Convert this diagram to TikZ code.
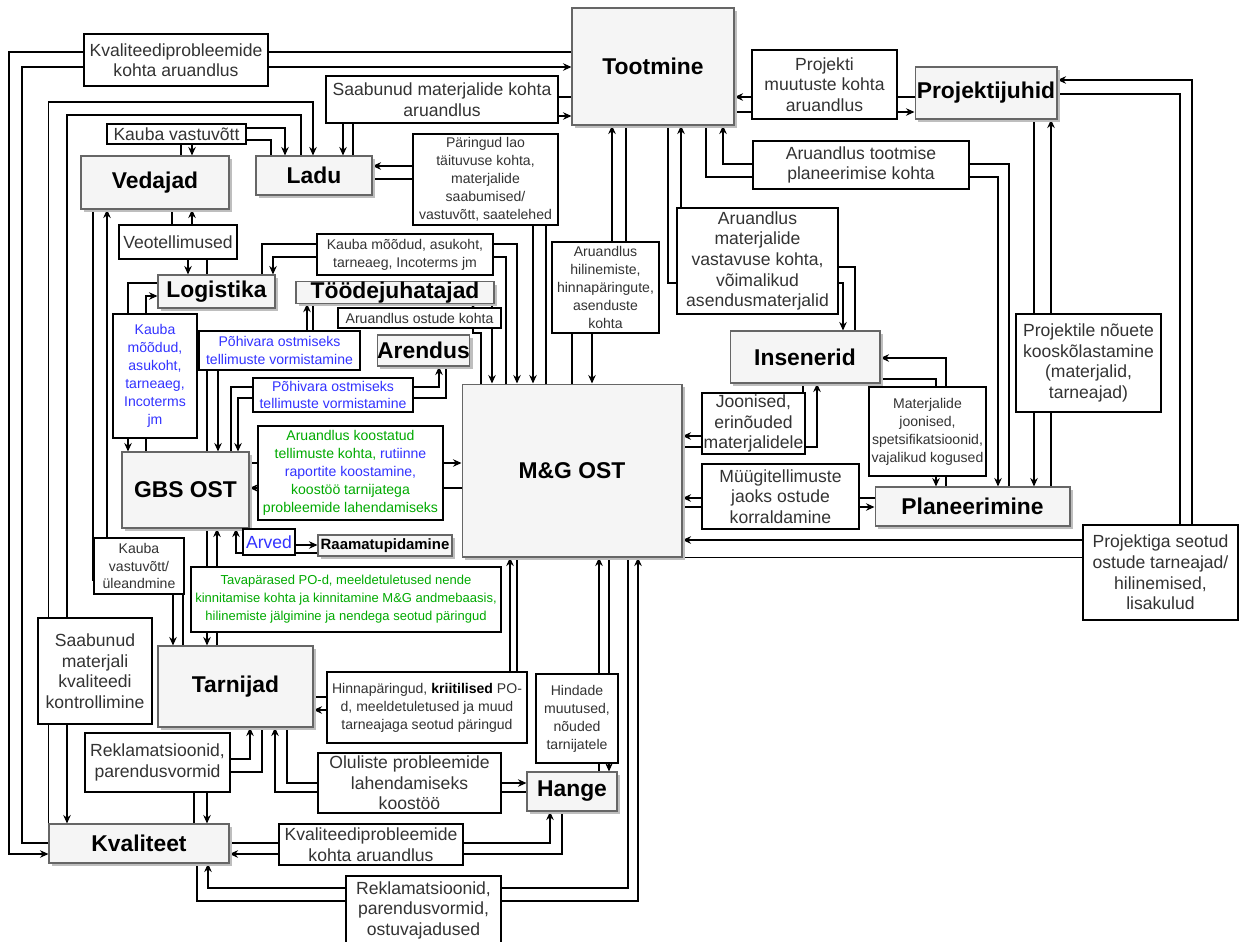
\documentclass[tikz,border=0pt]{standalone}
\usepackage{fontspec}
\setmainfont{Liberation Sans}
\usepackage{tikz}
\usetikzlibrary{arrows.meta,shapes,positioning,shadows}
\usepackage{xcolor}
\definecolor{ogfill}{RGB}{245,245,245}
\definecolor{ogdraw}{RGB}{102,102,102}
\definecolor{ogtext}{RGB}{51,51,51}
\definecolor{ogblue}{RGB}{51,51,255}
\definecolor{oggreen}{RGB}{0,170,0}
\definecolor{ogshadow}{RGB}{190,190,190}
\tikzstyle{unit} = [rectangle, draw=ogdraw, fill=ogfill, line width=0.6pt, inner sep=0pt, text=black, font=\fontsize{13}{15}\selectfont\bfseries, drop shadow={shadow xshift=0.06cm, shadow yshift=-0.06cm, fill=ogshadow, opacity=1}]
\tikzstyle{note} = [rectangle, draw=black, fill=white, line width=0.7pt, inner sep=1pt, align=center, text=ogtext, font=\fontsize{10}{11.7}\selectfont]
\tikzstyle{smallnote} = [note, font=\fontsize{8}{10.2}\selectfont]
\tikzstyle{flow} = [line width=0.75pt, -{Stealth[length=1.7mm, width=1.5mm]}]
\pgfdeclarelayer{background}
\pgfsetlayers{background,main}

\begin{document}
\begin{tikzpicture}[x=0.02cm, y=-0.02cm]
\useasboundingbox (0,0) rectangle (1243,941);

% Units
\node[unit, minimum width=3.24cm, minimum height=2.34cm] (tootmine) at (653,66.5) {Tootmine};
\node[unit, minimum width=2.84cm, minimum height=1.04cm] (projektijuhid) at (986,93) {Projektijuhid};
\node[unit, minimum width=2.96cm, minimum height=1.06cm] (vedajad) at (155,182.5) {Vedajad};
\node[unit, minimum width=2.32cm, minimum height=0.78cm] (ladu) at (314,175.5) {Ladu};
\node[unit, minimum width=2.34cm, minimum height=0.66cm] (logistika) at (216.5,291.5) {Logistika};
\node[unit, minimum width=3.96cm, minimum height=0.42cm] (toodejuh) at (395,292.5) {Töödejuhatajad};
\node[unit, minimum width=1.82cm, minimum height=0.62cm] (arendus) at (423.5,350.5) {Arendus};
\node[unit, minimum width=2.54cm, minimum height=1.52cm] (gbs) at (185.5,490) {GBS OST};
\node[unit, minimum width=2.68cm, minimum height=0.42cm, font=\fontsize{8.5}{10}\selectfont\bfseries] (raamat) at (385,545.5) {Raamatupidamine};
\node[unit, minimum width=4.40cm, minimum height=3.46cm] (mgost) at (572,470.5) {M\&G OST};
\node[unit, minimum width=3.00cm, minimum height=1.04cm] (insenerid) at (805,357) {Insenerid};
\node[unit, minimum width=3.90cm, minimum height=0.78cm] (planeerimine) at (972.5,506.5) {Planeerimine};
\node[unit, minimum width=3.10cm, minimum height=1.62cm] (tarnijad) at (235.5,686.5) {Tarnijad};
\node[unit, minimum width=3.60cm, minimum height=0.78cm] (kvaliteet) at (139,843.5) {Kvaliteet};
\node[unit, minimum width=1.80cm, minimum height=0.78cm] (hange) at (572,791.5) {Hange};

% Labels, left part
\node[note, minimum width=3.68cm, minimum height=1.04cm] (kvaltop) at (176,60) {Kvaliteediprobleemide\\kohta aruandlus};
\node[note, minimum width=4.64cm, minimum height=0.94cm] (saabtop) at (442,99.5) {Saabunud materjalide kohta\\aruandlus};
\node[note, minimum width=2.78cm, minimum height=0.40cm, inner sep=0.5pt] (kaubavast) at (176.5,134) {Kauba vastuvõtt};
\node[smallnote, minimum width=2.90cm, minimum height=1.82cm] (paringud) at (485.5,179.5) {Päringud lao\\täituvuse kohta,\\materjalide\\saabumised/\\vastuvõtt, saatelehed};
\node[note, minimum width=2.36cm, minimum height=0.68cm] (veotell) at (178,242) {Veotellimused};
\node[smallnote, minimum width=3.52cm, minimum height=0.82cm] (kaubamoodud) at (405,254.5) {Kauba mõõdud, asukoht,\\tarneaeg, Incoterms jm};
\node[smallnote, minimum width=3.26cm, minimum height=0.40cm, inner sep=0.5pt] (aruostude) at (419.5,318) {Aruandlus ostude kohta};
\node[smallnote, text=ogblue, minimum width=1.68cm, minimum height=2.48cm] (kaubablue) at (155,376) {Kauba\\mõõdud,\\asukoht,\\tarneaeg,\\Incoterms\\jm};
\node[smallnote, text=ogblue, minimum width=3.22cm, minimum height=0.78cm] (pohivaraa) at (279.5,350.5) {Põhivara ostmiseks\\tellimuste vormistamine};
\node[smallnote, text=ogblue, minimum width=3.20cm, minimum height=0.68cm] (pohivarab) at (333,395) {Põhivara ostmiseks\\tellimuste vormistamine};
\node[smallnote, text=oggreen, minimum width=3.70cm, minimum height=1.88cm] (arukoost) at (350.5,473) {Aruandlus koostatud\\tellimuste kohta, \textcolor{ogblue}{rutiinne}\\\textcolor{ogblue}{raportite koostamine,}\\koostöö tarnijatega\\probleemide lahendamiseks};
\node[note, text=ogblue, minimum width=1.04cm, minimum height=0.52cm] (arved) at (269,542) {Arved};
\node[smallnote, minimum width=1.80cm, minimum height=1.12cm] (kaubayle) at (139,566) {Kauba\\vastuvõtt/\\üleandmine};
\node[smallnote, text=oggreen, font=\fontsize{7.4}{10.2}\selectfont, minimum width=6.20cm, minimum height=1.30cm] (tavaparased) at (346,599.5) {Tavapärased PO-d, meeldetuletused nende\\kinnitamise kohta ja kinnitamine M\&G andmebaasis,\\hilinemiste jälgimine ja nendega seotud päringud};
\node[note, minimum width=2.28cm, minimum height=2.12cm] (saabkval) at (95,671) {Saabunud\\materjali\\kvaliteedi\\kontrollimine};
\node[smallnote, minimum width=4.00cm, minimum height=1.42cm] (hinnapar) at (427,707.5) {Hinnapäringud, \textcolor{black}{\textbf{kriitilised}} PO-\\d, meeldetuletused ja muud\\tarneajaga seotud päringud};
\node[note, minimum width=2.90cm, minimum height=1.18cm] (rekla) at (157.5,762.5) {Reklamatsioonid,\\parendusvormid};
\node[note, minimum width=3.66cm, minimum height=1.20cm] (oluliste) at (409.5,783) {Oluliste probleemide\\lahendamiseks\\koostöö};
\node[smallnote, minimum width=1.64cm, minimum height=1.78cm] (hindade) at (577,718.5) {Hindade\\muutused,\\nõuded\\tarnijatele};
\node[note, minimum width=3.68cm, minimum height=0.82cm] (kvalbot) at (371,844.5) {Kvaliteediprobleemide\\kohta aruandlus};
\node[note, minimum width=3.10cm, minimum height=1.36cm] (reklb) at (423.5,910) {Reklamatsioonid,\\parendusvormid,\\ostuvajadused};

% Labels, right part
\node[smallnote, minimum width=2.14cm, minimum height=1.82cm] (aruhiline) at (605.5,287.5) {Aruandlus\\hilinemiste,\\hinnapäringute,\\asenduste\\kohta};
\node[note, minimum width=3.22cm, minimum height=2.12cm] (aruvastav) at (757.5,261) {Aruandlus\\materjalide\\vastavuse kohta,\\võimalikud\\asendusmaterjalid};
\node[note, minimum width=4.32cm, minimum height=0.96cm] (aruplan) at (861,165) {Aruandlus tootmise\\planeerimise kohta};
\node[note, minimum width=2.90cm, minimum height=1.38cm] (projmuut) at (824.5,84.5) {Projekti\\muutuste kohta\\aruandlus};
\node[note, minimum width=2.90cm, minimum height=1.96cm] (projnoue) at (1088.5,363) {Projektile nõuete\\kooskõlastamine\\(materjalid,\\tarneajad)};
\node[smallnote, minimum width=2.34cm, minimum height=1.78cm] (matjoon) at (927.5,431.5) {Materjalide\\joonised,\\spetsifikatsioonid,\\vajalikud kogused};
\node[note, minimum width=2.06cm, minimum height=1.22cm] (joonised) at (753.5,423.5) {Joonised,\\erinõuded\\materjalidele};
\node[note, minimum width=3.14cm, minimum height=1.30cm] (myygi) at (780.5,496.5) {Müügitellimuste\\jaoks ostude\\korraldamine};
\node[note, minimum width=3.10cm, minimum height=1.90cm] (projseot) at (1160.5,572.5) {Projektiga seotud\\ostude tarneajad/\\hilinemised,\\lisakulud};

\begin{pgfonlayer}{background}
\fill[white] (0,0) rectangle (1243,941);
% Quality reports
\draw[flow] (tootmine.west |- 0,52) -| (9,854) -- (kvaliteet.west |- 0,854);
\draw[flow] (kvaliteet.west |- 0,843) -| (22,67) -- (tootmine.west |- 0,67);
% Warehouse
\draw[flow] (ladu.north -| 353,0) |- (tootmine.west |- 0,116);
\draw[flow] (tootmine.west |- 0,97) -| (ladu.north -| 343,0);
\draw[flow] (kvaliteet.north west) |- (313,102) -- (ladu.north -| 313,0);
\draw[flow] (ladu.north -| 301,0) |- (67,115) -- (kvaliteet.north -| 67,0);
\draw[flow] (vedajad.north -| 181,0) |- (285,128) -- (ladu.north -| 285,0);
\draw[flow] (ladu.north -| 271,0) |- (192,140) -- (vedajad.north -| 192,0);
\draw[flow] (mgost.north -| 546,0) |- (ladu.east |- 0,166);
\draw[flow] (ladu.east |- 0,179) -| (mgost.north -| 533,0);
% Logistics
\draw[flow] (mgost.north -| 506,0) |- (273,257) -- (logistika.north -| 273,0);
\draw[flow] (logistika.north -| 262,0) |- (517,244) -- (mgost.north -| 517,0);
\draw[flow] (gbs.north -| 146,0) |- (logistika.west |- 0,296);
\draw[flow] (logistika.west |- 0,283) -| (gbs.north -| 128,0);
\draw[flow] (logistika.north -| 207,0) |- (192,240) -- (vedajad.south -| 192,0);
\draw[flow] (vedajad.south -| 172,0) |- (188,245) -- (logistika.north -| 188,0);
% Toodejuhatajad, Arendus
\draw[flow] (mgost.north -| 481,0) |- (473,333) -- (toodejuh.south -| 473,0);
\draw[flow] (toodejuh.south -| 492,0) -- (mgost.north -| 492,0);
\draw[flow] (gbs.north -| 207,0) |- (307,350) -- (toodejuh.south -| 307,0);
\draw[flow] (toodejuh.south -| 313,0) |- (218,358) -- (gbs.north -| 218,0);
\draw[flow] (gbs.north -| 231,0) |- (439,387) -- (arendus.south -| 439,0);
\draw[flow] (arendus.south -| 446,0) |- (238,398) -- (gbs.north -| 238,0);
% GBS OST
\draw[flow] (gbs.east |- 0,463) -- (mgost.west |- 0,463);
\draw[flow] (mgost.west |- 0,488) -- (gbs.east |- 0,488);
\draw[flow] (raamat.west |- 0,553) -| (gbs.south -| 236,0);
\draw[flow] (gbs.south -| 246,0) |- (raamat.west |- 0,545);
\draw[flow] (gbs.south -| 207,0) -- (tarnijad.north -| 207,0);
\draw[flow] (tarnijad.north -| 217,0) -- (gbs.south -| 217,0);
% Tarnijad
\draw[flow] (vedajad.south -| 93,0) |- (173,580) -- (tarnijad.north -| 173,0);
\draw[flow] (tarnijad.north -| 183,0) |- (107,560) -- (vedajad.south -| 107,0);
\draw[flow] (tarnijad.east |- 0,697) -| (mgost.south -| 510,0);
\draw[flow] (mgost.south -| 517,0) |- (tarnijad.east |- 0,710);
\draw[flow] (tarnijad.south -| 287,0) |- (hange.west |- 0,783);
\draw[flow] (hange.west |- 0,792) -| (tarnijad.south -| 275,0);
\draw[flow] (kvaliteet.north -| 194,0) |- (250,759) -- (tarnijad.south -| 250,0);
\draw[flow] (tarnijad.south -| 262,0) |- (207,772) -- (kvaliteet.north -| 207,0);
% Hange, Kvaliteet
\draw[flow] (hange.north -| 599,0) -- (mgost.south -| 599,0);
\draw[flow] (mgost.south -| 609,0) -- (hange.north -| 609,0);
\draw[flow] (mgost.south -| 628,0) |- (208,888) -- (kvaliteet.south -| 208,0);
\draw[flow] (kvaliteet.south -| 197,0) |- (638,901) -- (mgost.south -| 638,0);
\draw[flow] (kvaliteet.east |- 0,843) -| (hange.south -| 550,0);
\draw[flow] (hange.south -| 562,0) |- (kvaliteet.east |- 0,854);
% Tootmine
\draw[flow] (mgost.north -| 572,0) |- (612,290) -- (tootmine.south -| 612,0);
\draw[flow] (tootmine.south -| 626,0) |- (592,300) -- (mgost.north -| 592,0);
\draw[flow] (insenerid.north -| 855,0) |- (681,267) -- (tootmine.south -| 681,0);
\draw[flow] (tootmine.south -| 668,0) |- (843,283) -- (insenerid.north -| 843,0);
\draw[flow] (planeerimine.north -| 1009,0) |- (723,164) -- (tootmine.south -| 723,0);
\draw[flow] (tootmine.south -| 706,0) |- (998,177) -- (planeerimine.north -| 998,0);
\draw[flow] (projektijuhid.west |- 0,97) -- (tootmine.east |- 0,97);
\draw[flow] (tootmine.east |- 0,112) -- (projektijuhid.west |- 0,112);
% Projektijuhid, Planeerimine, Insenerid
\draw[flow] (projektijuhid.south -| 1034,0) -- (planeerimine.north -| 1034,0);
\draw[flow] (planeerimine.north -| 1051,0) -- (projektijuhid.south -| 1051,0);
\draw[flow] (projektijuhid.east |- 0,94) -| (1180,540) -- (mgost.east |- 0,540);
\draw[flow] (mgost.south east) -| (1192,80) -- (projektijuhid.east |- 0,80);
\draw[flow] (planeerimine.north -| 946,0) |- (insenerid.east |- 0,358);
\draw[flow] (insenerid.east |- 0,379) -| (planeerimine.north -| 936,0);
\draw[flow] (mgost.east |- 0,447) -| (insenerid.south -| 817,0);
\draw[flow] (insenerid.south -| 803,0) |- (mgost.east |- 0,436);
\draw[flow] (planeerimine.west |- 0,498) -- (mgost.east |- 0,498);
\draw[flow] (mgost.east |- 0,507) -- (planeerimine.west |- 0,507);
\end{pgfonlayer}
\end{tikzpicture}
\end{document}
